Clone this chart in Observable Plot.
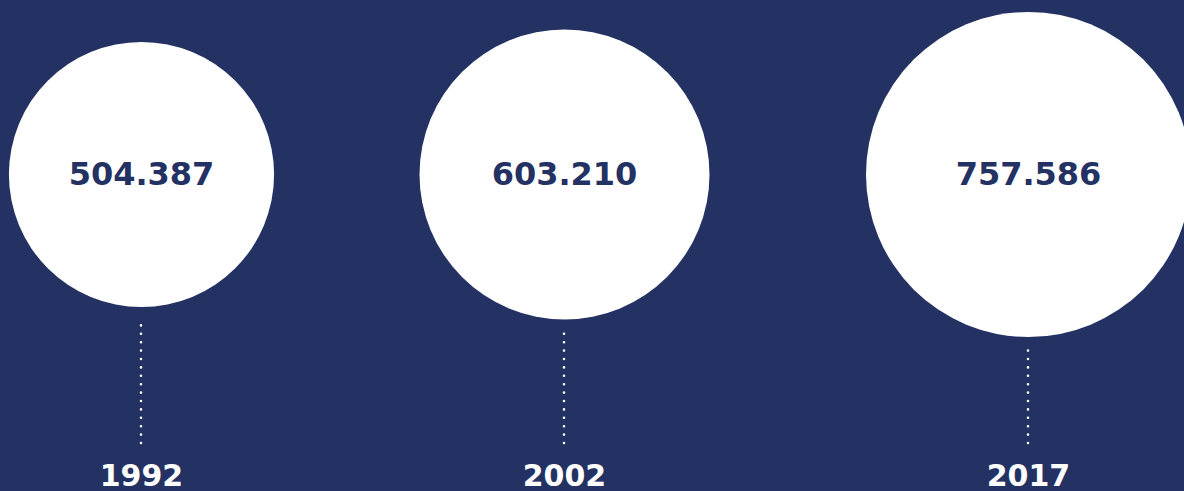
<!DOCTYPE html>
<html>
<head>
<meta charset="utf-8">
<script src="https://cdn.jsdelivr.net/npm/d3@7"></script>
<script src="https://cdn.jsdelivr.net/npm/@observablehq/plot@0.6"></script>
<style>
  html, body { margin: 0; padding: 0; background: #233163; overflow: hidden; }
  #chart svg { display: block; }
</style>
</head>
<body>
<div id="chart"></div>
<script>
const years = [1992, 2002, 2017];
const values = [504387, 603210, 757586];

const navy = "#233163";
const data = years.map((y, i) => ({year: y, value: values[i]}));
const fmt = d3.formatLocale({thousands: ".", decimal: ",", grouping: [3], currency: ["", ""]}).format(",d");

const chart = Plot.plot({
  width: 1184,
  height: 491,
  marginTop: 0,
  marginLeft: 0,
  marginRight: 0,
  marginBottom: 143,
  style: {background: navy, fontFamily: "'DejaVu Sans', sans-serif"},
  x: {type: "linear", domain: [1992, 2002, 2017], range: [141, 564, 1028], axis: null},
  r: {type: "sqrt", domain: [0, 757586], range: [0, 162.5]},
  marks: [
    Plot.dot(data, {x: "year", r: "value", fill: "white", stroke: null}),
    Plot.text(data, {x: "year", text: d => fmt(d.value), fill: navy, fontSize: 32, fontWeight: 700, letterSpacing: "-0.6px"}),
    Plot.ruleX(data, {
      x: "year",
      render: (index, scales, vals, dims) => {
        const g = d3.create("svg:g");
        const cy = (dims.marginTop + dims.height - dims.marginBottom) / 2;
        for (const i of index) {
          const cx = vals.x[i];
          const rr = scales.r(data[i].value);
          g.append("line")
            .attr("x1", cx).attr("x2", cx)
            .attr("y1", dims.height - 48).attr("y2", cy + rr + 13)
            .attr("stroke", "white")
            .attr("stroke-width", 2.6)
            .attr("stroke-linecap", "round")
            .attr("stroke-dasharray", "0,8.4");
        }
        return g.node();
      }
    }),
    Plot.text(data, {x: "year", text: d => String(d.year), frameAnchor: "bottom", lineAnchor: "middle", dy: 128, fill: "white", fontSize: 30, fontWeight: 700, letterSpacing: "-0.8px"})
  ]
});
document.getElementById("chart").append(chart);
</script>
</body>
</html>
